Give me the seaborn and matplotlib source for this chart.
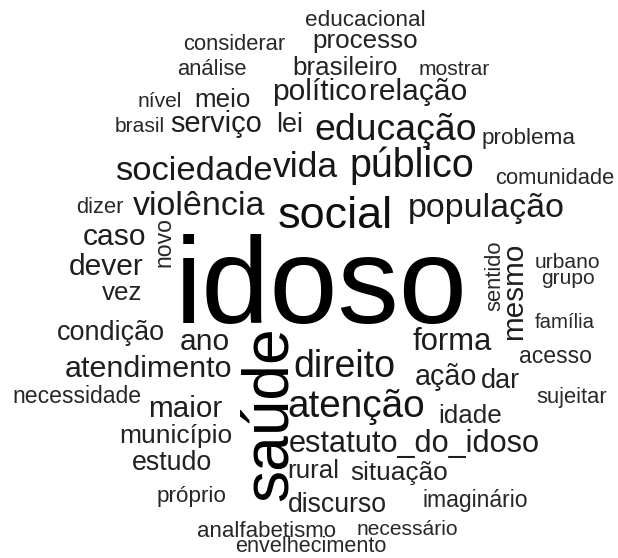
import numpy as np
import seaborn as sns
import matplotlib.pyplot as plt

# word cloud data: words and their weights (weight ~ relative frequency)
words = [
    "idoso", "saúde", "social", "público", "atenção", "educação", "direito",
    "vida", "sociedade", "população", "violência", "forma", "estatuto_do_idoso",
    "atendimento", "político", "relação", "caso", "dever", "ano", "mesmo",
    "serviço", "maior", "ação", "condição", "lei", "dar", "estudo", "discurso",
    "município", "situação", "processo", "brasileiro", "meio", "idade", "rural",
    "vez", "novo", "imaginário", "acesso", "necessidade", "educacional",
    "problema", "próprio", "analfabetismo", "considerar", "análise",
    "comunidade", "dizer", "urbano", "grupo", "sentido", "sujeitar",
    "envelhecimento", "nível", "brasil", "mostrar", "necessário", "família",
]
weights = [
    122.6, 64, 45, 39.5, 38.8, 37.4, 37.5,
    35.5, 34.5, 34, 34, 31, 30.8,
    30.5, 30, 30, 30, 30, 30, 29.6,
    29, 29.6, 28.6, 27, 27, 27, 26.7, 26.6,
    26.4, 26.3, 26, 26, 26, 26, 26,
    26, 23, 23, 23, 23, 22.5,
    22.5, 22.5, 22.3, 22, 22,
    22, 22, 21, 21, 22, 22,
    21.7, 21, 21, 21, 21, 20.4,
]

# cloud layout (pixel space of the 618x558 canvas): centre x, baseline y, rotation
layout = {
    "idoso": (321, 323, 0), "saúde": (287, 414, 90), "social": (335, 228, 0),
    "público": (412, 177, 0), "atenção": (356, 417, 0), "educação": (396, 140, 0),
    "direito": (344, 377, 0), "vida": (305, 177, 0), "sociedade": (194, 180, 0),
    "população": (486, 217, 0), "violência": (199, 215, 0), "forma": (452, 350, 0),
    "estatuto_do_idoso": (414, 452, 0), "atendimento": (149, 377, 0),
    "político": (320, 100, 0), "relação": (418, 100, 0), "caso": (115, 245, 0),
    "dever": (106, 275, 0), "ano": (205, 350, 0), "mesmo": (522, 291, 90),
    "serviço": (216, 132, 0), "maior": (185, 417, 0), "ação": (446, 385, 0),
    "condição": (111, 340, 0), "lei": (290, 132, 0), "dar": (500, 388, 0),
    "estudo": (172, 470, 0), "discurso": (337, 512, 0), "município": (176, 443, 0),
    "situação": (399, 480, 0), "processo": (365, 48, 0), "brasileiro": (345, 75, 0),
    "meio": (223, 107, 0), "idade": (470, 423, 0), "rural": (313, 478, 0),
    "vez": (122, 300, 0), "novo": (170, 242, 90), "imaginário": (475, 507, 0),
    "acesso": (556, 363, 0), "necessidade": (77, 403, 0), "educacional": (365, 26, 0),
    "problema": (529, 144, 0), "próprio": (192, 502, 0), "analfabetismo": (267, 537, 0),
    "considerar": (234, 50, 0), "análise": (212, 75, 0), "comunidade": (555, 184, 0),
    "dizer": (100, 213, 0), "urbano": (567, 268, 0), "grupo": (568, 284, 0),
    "sentido": (500, 276, 90), "sujeitar": (572, 403, 0),
    "envelhecimento": (311, 552, 0), "nível": (160, 107, 0), "brasil": (140, 132, 0),
    "mostrar": (454, 75, 0), "necessário": (407, 535, 0), "família": (565, 328, 0),
}

sns.set_theme(style="white")
plt.rcParams['font.family'] = ['Liberation Sans', 'DejaVu Sans']

W, H, DPI = 618, 558, 100
fig = plt.figure(figsize=(W / DPI, H / DPI), dpi=DPI)
ax = fig.add_axes([0, 0, 1, 1])
ax.set_xlim(0, W)
ax.set_ylim(H, 0)
ax.axis("off")

greys = sns.color_palette("Greys", as_cmap=True)
w = np.array(weights)

for word, wt in zip(words, w):
    x, y, rot = layout[word]
    shade = np.clip(0.86 + (wt - 20) / 40 * 0.14, 0.86, 1.0)
    ax.text(x, y, word, fontsize=wt * 72 / DPI, color=greys(shade),
            ha="center", va="baseline", rotation=rot, rotation_mode="anchor")

fig.savefig("out.png", dpi=DPI, facecolor="white")
